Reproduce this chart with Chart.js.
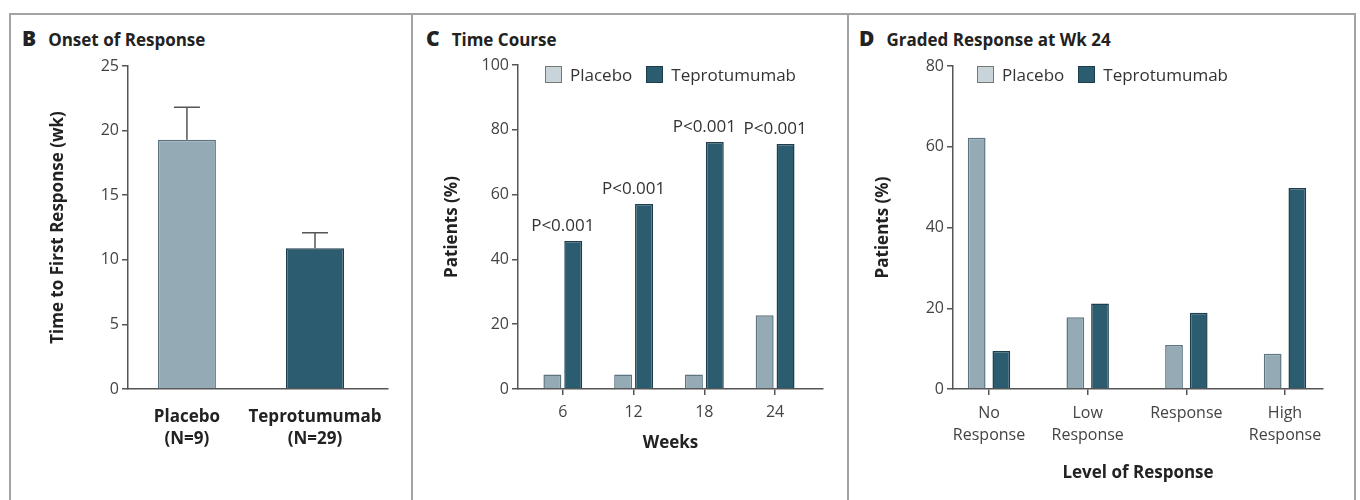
<!DOCTYPE html>
<html>
<head>
<meta charset="utf-8">
<script src="https://cdn.jsdelivr.net/npm/chart.js@4.4.1/dist/chart.umd.min.js"></script>
<style>
  body { margin: 0; width: 1360px; height: 500px; background: #fff; position: relative; overflow: hidden;
         font-family: "Open Sans", sans-serif; color: #222; }
  .rule { position: absolute; background: #a3a3a3; }
  .panel { position: absolute; top: 50px; }
  .title { position: absolute; top: 25px; font-weight: 700; font-size: 17px; white-space: nowrap; line-height: 26px; }
  .title b { font-size: 21px; margin-right: 12px; }
  .legend { position: absolute; top: 63px; font-size: 17px; color: #333; white-space: nowrap; line-height: 24px; }
  .legend span.sw { display: inline-block; width: 15px; height: 15px; vertical-align: -2px; margin-right: 8px; border: 1px solid #666; }
  .legend span.item { margin-right: 14px; }
</style>
</head>
<body>
<div class="rule" style="left:9px;top:13px;width:1347px;height:2px"></div>
<div class="rule" style="left:9px;top:13px;width:2px;height:487px"></div>
<div class="rule" style="left:411px;top:13px;width:2px;height:487px"></div>
<div class="rule" style="left:847px;top:13px;width:2px;height:487px"></div>
<div class="rule" style="left:1354px;top:13px;width:2px;height:487px"></div>

<div class="title" style="left:22px"><b>B</b>Onset of Response</div>
<div class="title" style="left:426px"><b>C</b>Time Course</div>
<div class="title" style="left:859px"><b>D</b>Graded Response at Wk 24</div>

<canvas id="chartB" class="panel" style="left:12px" width="398" height="445"></canvas>
<canvas id="chartC" class="panel" style="left:414px" width="432" height="445"></canvas>
<canvas id="chartD" class="panel" style="left:850px" width="503" height="445"></canvas>

<div id="legendC" class="legend" style="left:545px"></div>
<div id="legendD" class="legend" style="left:977px"></div>

<script>
// series names and colours
const seriesNames = ['Placebo', 'Teprotumumab'];

// B: onset of response
const onsetGroups = [['Placebo', '(N=9)'], ['Teprotumumab', '(N=29)']];
const onsetWeeks = [19.3, 10.9];
const onsetErrTop = [21.8, 12.1];

// C: time course
const weeks = [6, 12, 18, 24];
const coursePlacebo = [4.5, 4.5, 4.5, 22.8];
const courseTepro = [45.7, 57.1, 76.2, 75.6];
const courseP = ['P<0.001', 'P<0.001', 'P<0.001', 'P<0.001'];

// D: graded response at week 24
const levels = [['No', 'Response'], ['Low', 'Response'], 'Response', ['High', 'Response']];
const gradedPlacebo = [62.2, 17.8, 10.9, 8.7];
const gradedTepro = [9.4, 21.2, 18.9, 49.8];

const fillPl = '#94abb6', edgePl = '#5d7480';
const fillTp = '#2c5c6f', edgeTp = '#1d3f4d';
const axisCol = '#555';

Chart.defaults.font.family = '"Open Sans", sans-serif';
Chart.defaults.color = '#333';
Chart.defaults.animation = false;

function yAxis(max, step, title, width, titlePad) {
    return {
        min: 0, max: max,
        ticks: { stepSize: step, font: { size: 16 }, color: '#444', padding: 3 },
        grid: { drawOnChartArea: false, tickLength: 6, color: axisCol, lineWidth: 1.5 },
        border: { color: axisCol, width: 1.5 },
        title: { display: true, text: title, color: '#222', font: { size: 17, weight: 'bold' }, padding: { top: titlePad, bottom: 0 } },
        afterFit: s => { s.width = width; }
    };
}

function xAxis(min, max, step, labelFn, opts) {
    return {
        type: 'linear', min: min, max: max, offset: false,
        ticks: {
            stepSize: step, includeBounds: false, autoSkip: false, maxRotation: 0,
            font: { size: opts.fontSize, weight: opts.bold ? 'bold' : 'normal', lineHeight: opts.lineHeight },
            color: opts.bold ? '#222' : '#444', padding: opts.pad,
            callback: labelFn
        },
        grid: { display: opts.ticks, offset: false, drawOnChartArea: false, tickLength: 6, color: axisCol, lineWidth: 1.5 },
        border: { display: true, color: axisCol, width: 1.5 },
        title: opts.title ? { display: true, text: opts.title, color: '#222', font: { size: 17, weight: 'bold' }, padding: { top: 0, bottom: opts.titlePad } } : { display: false },
        afterFit: s => { s.height = 106; }
    };
}

// error bars on panel B
const errorBars = {
    id: 'errorBars',
    afterDatasetsDraw(chart) {
        const { ctx, scales: { x, y } } = chart;
        ctx.save();
        ctx.strokeStyle = axisCol;
        ctx.lineWidth = 1.5;
        onsetErrTop.forEach((hi, i) => {
            const px = x.getPixelForValue(i + 1);
            const top = y.getPixelForValue(hi);
            const base = y.getPixelForValue(onsetWeeks[i]);
            ctx.beginPath();
            ctx.moveTo(px, base);
            ctx.lineTo(px, top);
            ctx.moveTo(px - 13, top);
            ctx.lineTo(px + 13, top);
            ctx.stroke();
        });
        ctx.restore();
    }
};

// P values over the week groups on panel C
const pLabels = {
    id: 'pLabels',
    afterDatasetsDraw(chart) {
        const { ctx, scales: { x, y } } = chart;
        ctx.save();
        ctx.font = '17px "Open Sans"';
        ctx.fillStyle = '#333';
        ctx.textAlign = 'center';
        ctx.textBaseline = 'middle';
        weeks.forEach((w, i) => {
            ctx.fillText(courseP[i], x.getPixelForValue(w), y.getPixelForValue(courseTepro[i]) - 15);
        });
        ctx.restore();
    }
};

new Chart(document.getElementById('chartB'), {
    type: 'bar',
    data: {
        datasets: [{
            data: onsetWeeks.map((v, i) => ({ x: i + 1, y: v })),
            backgroundColor: [fillPl, fillTp],
            borderColor: [edgePl, edgeTp],
            borderWidth: 1.5,
            categoryPercentage: 1,
            barPercentage: 0.453
        }]
    },
    options: {
        responsive: false,
        layout: { padding: { top: 16, right: 22, left: 0, bottom: 0 } },
        plugins: { legend: { display: false }, tooltip: { enabled: false } },
        scales: {
            x: xAxis(0.54, 2.57, 1, v => onsetGroups[v - 1] || '', { fontSize: 17, bold: true, lineHeight: 1.3, pad: 11, ticks: false }),
            y: yAxis(25, 5, 'Time to First Response (wk)', 116, 36)
        }
    },
    plugins: [errorBars]
});

function groupedSets(a, b, xs, catPct, barPct) {
    return [
        { label: seriesNames[0], data: a.map((v, i) => ({ x: xs[i], y: v })), backgroundColor: fillPl, borderColor: edgePl, borderWidth: 1.5, categoryPercentage: catPct, barPercentage: barPct },
        { label: seriesNames[1], data: b.map((v, i) => ({ x: xs[i], y: v })), backgroundColor: fillTp, borderColor: edgeTp, borderWidth: 1.5, categoryPercentage: catPct, barPercentage: barPct }
    ];
}

new Chart(document.getElementById('chartC'), {
    type: 'bar',
    data: { datasets: groupedSets(coursePlacebo, courseTepro, weeks, 0.59, 0.86) },
    options: {
        responsive: false,
        layout: { padding: { top: 15, right: 23, left: 0, bottom: 0 } },
        plugins: { legend: { display: false }, tooltip: { enabled: false } },
        scales: {
            x: xAxis(2.2, 28.06, 6, v => weeks.includes(v) ? String(v) : '', { fontSize: 16, bold: false, lineHeight: 1.2, pad: 8, ticks: true, title: 'Weeks', titlePad: 42 }),
            y: yAxis(100, 20, 'Patients (%)', 104, 28)
        }
    },
    plugins: [pLabels]
});

const levelPos = levels.map((l, i) => i + 1);
new Chart(document.getElementById('chartD'), {
    type: 'bar',
    data: { datasets: groupedSets(gradedPlacebo, gradedTepro, levelPos, 0.5, 0.72) },
    options: {
        responsive: false,
        layout: { padding: { top: 16, right: 30, left: 0, bottom: 0 } },
        plugins: { legend: { display: false }, tooltip: { enabled: false } },
        scales: {
            x: xAxis(0.635, 4.385, 1, v => levels[v - 1] || '', { fontSize: 16, bold: false, lineHeight: 1.38, pad: 7, ticks: true, title: 'Level of Response', titlePad: 12 }),
            y: yAxis(80, 20, 'Patients (%)', 103, 23)
        }
    }
});

// html legends for C and D
function buildLegend(id) {
    const el = document.getElementById(id);
    const fills = [['#c8d4da', '#777'], [fillTp, edgeTp]];
    seriesNames.forEach((name, i) => {
        const item = document.createElement('span');
        item.className = 'item';
        const sw = document.createElement('span');
        sw.className = 'sw';
        sw.style.background = fills[i][0];
        sw.style.borderColor = fills[i][1];
        item.appendChild(sw);
        item.appendChild(document.createTextNode(name));
        el.appendChild(item);
    });
}
buildLegend('legendC');
buildLegend('legendD');
</script>
</body>
</html>
